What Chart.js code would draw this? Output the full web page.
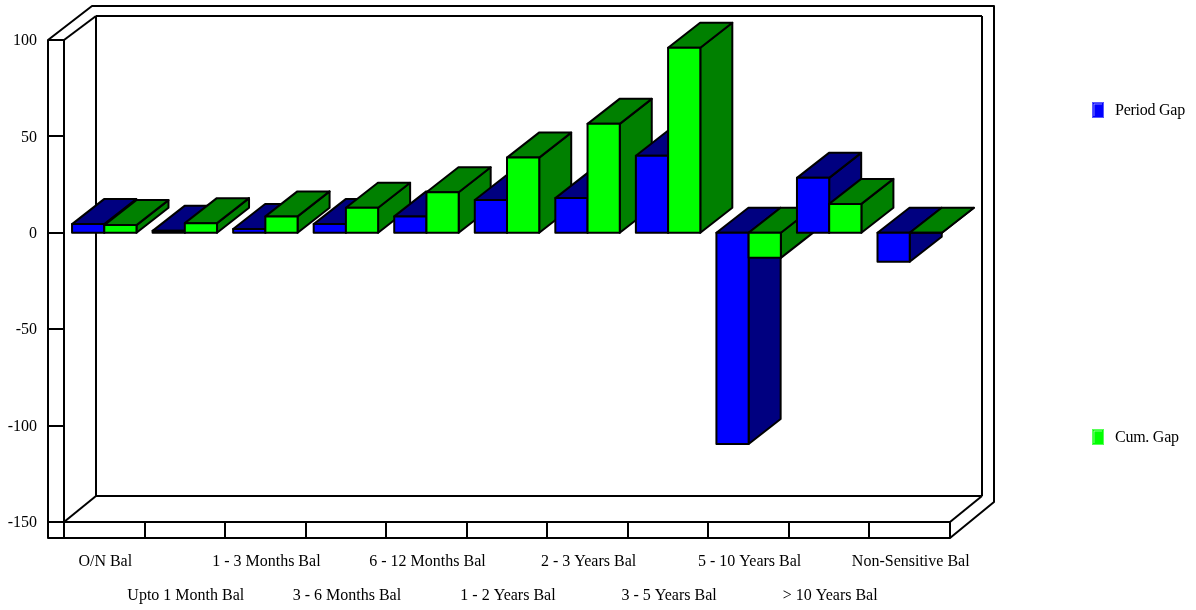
<!DOCTYPE html>
<html>
<head>
<meta charset="utf-8">
<title>Period and cumulative gap</title>
<script src="https://cdn.jsdelivr.net/npm/chart.js@4/dist/chart.umd.min.js"></script>
<style>
  html, body { margin: 0; padding: 0; background: #fff; }
  #wrap { width: 1196px; height: 610px; }
</style>
</head>
<body>
<div id="wrap"><canvas id="gapChart"></canvas></div>
<script>
/* ============================================================
   DATA
   ============================================================ */

const buckets = [
  'O/N Bal', 'Upto 1 Month Bal', '1 - 3 Months Bal', '3 - 6 Months Bal',
  '6 - 12 Months Bal', '1 - 2 Years Bal', '2 - 3 Years Bal', '3 - 5 Years Bal',
  '5 - 10 Years Bal', '> 10 Years Bal', 'Non-Sensitive Bal',
];
const periodGap = [4.5, 1, 2, 4.5, 8.5, 17, 18, 40, -109.5, 28.5, -15];
const cumGap    = [4, 5, 8.5, 13, 21, 39, 56.5, 96, -13, 15, 0];

/* ============================================================
   3D DRAWING
   ============================================================ */

const FONT    = "'Liberation Serif', 'Times New Roman', serif";
const DEPTH_X = 32;
const DEPTH_Y = 25;

function poly(ctx, pts, fill) {
  ctx.beginPath();
  pts.forEach(([x, y], i) => i ? ctx.lineTo(x, y) : ctx.moveTo(x, y));
  ctx.closePath();
  if (fill) { ctx.fillStyle = fill; ctx.fill(); }
  ctx.stroke();
}

function seg(ctx, x1, y1, x2, y2) {
  ctx.beginPath();
  ctx.moveTo(x1, y1);
  ctx.lineTo(x2, y2);
  ctx.stroke();
}

function drawFrame(ctx, a) {
  const { left: l, right: r, top: t, bottom: b } = a;
  const bx = l + 32, rx = r + 32, by = b - 26, ty = t - 24;

  // back wall + floor joints
  seg(ctx, bx, ty, rx, ty);
  seg(ctx, bx, ty, bx, by);
  seg(ctx, bx, by, rx, by);
  seg(ctx, rx, ty, rx, by);
  seg(ctx, l, t, bx, ty);
  seg(ctx, l, b, bx, by);
  seg(ctx, r, b, rx, by);

  // outer shell
  poly(ctx, [[l - 16, t], [l + 28, t - 34], [r + 44, t - 34], [r + 44, b - 20], [r, b + 16], [l - 16, b + 16]]);
  seg(ctx, l - 16, t, l, t);
}

function drawBar(ctx, el, zero, front, shade) {
  const { x, y, width } = el.getProps(['x', 'y', 'width'], true);
  const x0 = x - width / 2, x1 = x + width / 2;
  const top = Math.min(y, zero), bot = Math.max(y, zero);

  poly(ctx, [[x1, top], [x1 + DEPTH_X, top - DEPTH_Y], [x1 + DEPTH_X, bot - DEPTH_Y], [x1, bot]], shade);
  poly(ctx, [[x0, top], [x0 + DEPTH_X, top - DEPTH_Y], [x1 + DEPTH_X, top - DEPTH_Y], [x1, top]], shade);
  poly(ctx, [[x0, top], [x1, top], [x1, bot], [x0, bot]], front);
}

function drawLegendKey(ctx, x, y, front) {
  ctx.save();
  ctx.fillStyle = front;
  ctx.fillRect(x, y, 12, 16);
  ctx.lineWidth = 1;
  ctx.strokeStyle = 'rgba(255,255,255,0.35)';
  ctx.strokeRect(x + 0.5, y + 0.5, 11, 15);
  ctx.strokeStyle = 'rgba(255,255,255,0.5)';
  ctx.beginPath();
  ctx.moveTo(x + 2, y + 14);
  ctx.lineTo(x + 2, y + 2);
  ctx.lineTo(x + 10, y + 2);
  ctx.stroke();
  ctx.restore();
}

const bars3d = {
  id: 'bars3d',
  // replaces the flat bars: painted slot by slot, left to right
  beforeDatasetsDraw(chart) {
    const ctx  = chart.ctx;
    const zero = chart.scales.y.getPixelForValue(0);
    ctx.save();
    ctx.lineWidth = 2;
    ctx.lineJoin = 'round';
    ctx.strokeStyle = '#000';
    drawFrame(ctx, chart.chartArea);

    buckets.forEach((_, i) => {
      chart.data.datasets.forEach((ds, d) => {
        drawBar(ctx, chart.getDatasetMeta(d).data[i], zero, ds.backgroundColor, ds.shadeColor);
      });
    });

    // legend
    ctx.font = '16px ' + FONT;
    ctx.letterSpacing = '-0.25px';
    ctx.textBaseline = 'middle';
    chart.data.datasets.forEach(ds => {
      drawLegendKey(ctx, 1092, ds.legendY - 9, ds.backgroundColor);
      ctx.fillStyle = '#000';
      ctx.fillText(ds.label, 1115, ds.legendY);
    });
    ctx.restore();
    return false;
  },
};

/* ============================================================
   CHART
   ============================================================ */

new Chart(document.getElementById('gapChart'), {
  type: 'bar',
  data: {
    labels: buckets,
    datasets: [
      { label: 'Period Gap', data: periodGap, backgroundColor: '#0000ff', shadeColor: '#000080', legendY: 111 },
      { label: 'Cum. Gap',   data: cumGap,    backgroundColor: '#00ff00', shadeColor: '#008000', legendY: 438 },
    ],
  },
  plugins: [bars3d],
  options: {
    responsive: true,
    maintainAspectRatio: false,
    animation: false,
    categoryPercentage: 0.8,
    barPercentage: 1,
    layout: { padding: { top: 40, right: 246, left: 0, bottom: 0 } },
    plugins: { legend: { display: false }, tooltip: { enabled: false } },
    scales: {
      x: {
        afterFit: s => { s.height = 88; },
        border: { color: '#000', width: 2 },
        grid: { drawOnChartArea: false, tickLength: 16, color: '#000', lineWidth: 2 },
        ticks: {
          autoSkip: false,
          maxRotation: 0,
          minRotation: 0,
          padding: 7,
          labelOffset: 1,
          color: '#000',
          font: { family: FONT, size: 16, lineHeight: '34px' },
          callback(v, i) {
            const name = this.getLabelForValue(v);
            return i % 2 ? ['', name] : name;
          },
        },
      },
      y: {
        min: -150,
        max: 100,
        afterFit: s => { s.width = 64; },
        border: { color: '#000', width: 2 },
        grid: { drawOnChartArea: false, tickLength: 16, color: '#000', lineWidth: 2 },
        ticks: { stepSize: 50, padding: 11, labelOffset: 1, color: '#000', font: { family: FONT, size: 16 } },
      },
    },
  },
});
</script>
</body>
</html>
